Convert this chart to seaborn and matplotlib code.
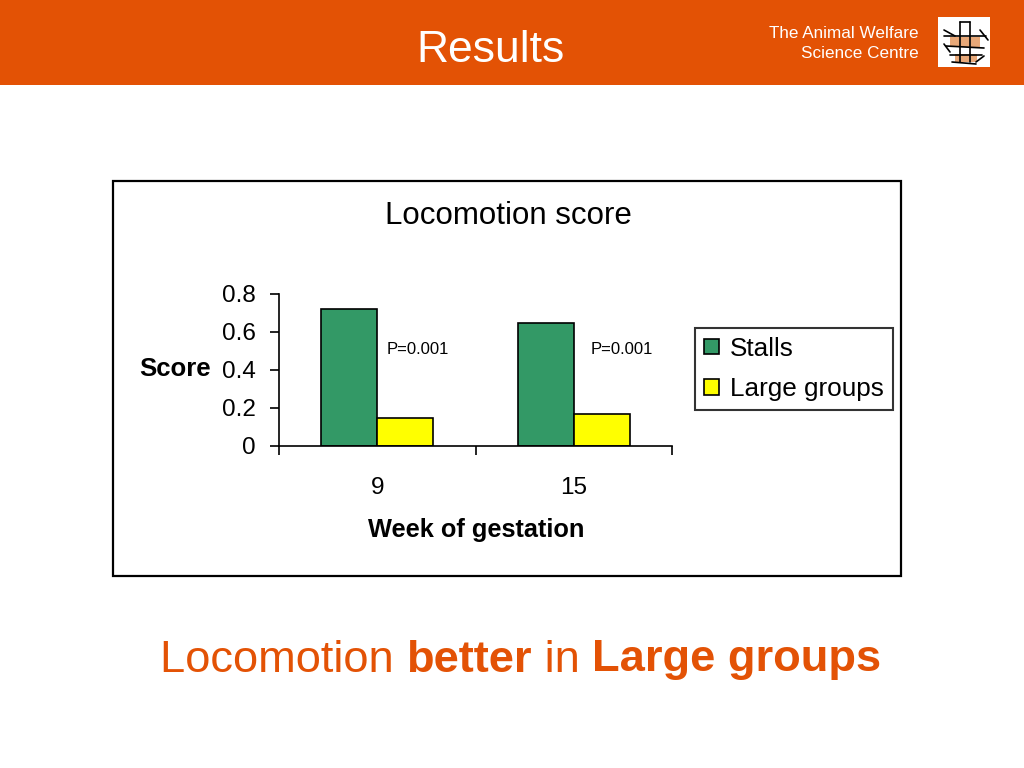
import matplotlib
matplotlib.use("Agg")
import matplotlib.pyplot as plt
import seaborn as sns
import pandas as pd
from matplotlib.patches import Rectangle

# datos
semanas = ["9", "15"]
grupos = ["Stalls", "Large groups"]
stalls = [0.72, 0.65]
large_groups = [0.15, 0.17]
p_valores = ["P=0.001", "P=0.001"]
colores = {"Stalls": "#339966", "Large groups": "#FFFF00"}

NARANJA = "#E35205"

sns.set_theme(style="white")
plt.rcParams['font.family'] = ['Liberation Sans', 'DejaVu Sans']
plt.rcParams['text.color'] = 'black'
plt.rcParams['axes.labelcolor'] = 'black'
plt.rcParams['xtick.color'] = 'black'
plt.rcParams['ytick.color'] = 'black'

df = pd.DataFrame({
    "semana": semanas * 2,
    "grupo": [grupos[0]] * len(semanas) + [grupos[1]] * len(semanas),
    "score": stalls + large_groups,
})

fig = plt.figure(figsize=(10.24, 7.68), dpi=100)
W, H = 1024, 768

def fx(px):
    return px / W

def fy(py):
    return 1 - py / H

# banda naranja de cabecera
fig.patches.append(Rectangle((0, fy(85)), 1, 85 / H, transform=fig.transFigure,
                             facecolor=NARANJA, edgecolor="none", zorder=0))
fig.text(fx(491), fy(50), "Results", color="white", fontsize=32,
         ha="center", va="center")
fig.text(fx(919), fy(33), "The Animal Welfare", color="white", fontsize=12.3,
         ha="right", va="center")
fig.text(fx(919), fy(53), "Science Centre", color="white", fontsize=12.3,
         ha="right", va="center")

# logo (aproximado)
fig.patches.append(Rectangle((fx(938), fy(67)), 52 / W, 50 / H, transform=fig.transFigure,
                             facecolor="white", edgecolor="none", zorder=1))
fig.patches.append(Rectangle((fx(950), fy(47)), 30 / W, 10 / H, transform=fig.transFigure,
                             facecolor="#E8A878", edgecolor="none", zorder=2))
fig.patches.append(Rectangle((fx(955), fy(62)), 22 / W, 8 / H, transform=fig.transFigure,
                             facecolor="#E8A878", edgecolor="none", zorder=2))
lineas_logo = [
    [(960, 22), (960, 62)], [(970, 22), (970, 62)], [(960, 22), (970, 22)],
    [(944, 36), (986, 36)], [(946, 46), (984, 48)], [(950, 55), (982, 55)],
    [(944, 30), (955, 36)], [(980, 30), (988, 40)], [(952, 62), (976, 64)],
    [(944, 44), (950, 52)], [(984, 56), (976, 62)],
]
for (x0, y0), (x1, y1) in lineas_logo:
    fig.add_artist(plt.Line2D([fx(x0), fx(x1)], [fy(y0), fy(y1)], color="black",
                              linewidth=1.2, transform=fig.transFigure, zorder=3))

# marco del grafico
fig.patches.append(Rectangle((fx(113), fy(576)), (901 - 113) / W, (576 - 181) / H,
                             transform=fig.transFigure, facecolor="none",
                             edgecolor="black", linewidth=1.6, zorder=1))

ax = fig.add_axes([fx(279), fy(446), (672 - 279) / W, (446 - 294) / H])
sns.barplot(data=df, x="semana", y="score", hue="grupo", order=semanas,
            hue_order=grupos, palette=colores, saturation=1, width=0.57,
            edgecolor="black", linewidth=1.2, ax=ax, legend=True)

ax.set_ylim(0, 0.8)
ax.set_xlim(-0.5, 1.5)
ax.set_yticks([0, 0.2, 0.4, 0.6, 0.8])
ax.set_yticklabels(["0", "0.2", "0.4", "0.6", "0.8"])
ax.tick_params(axis="y", labelsize=17.5, length=6.5, width=1.2, pad=10,
               direction="out", left=True)
ax.set_xticks([0, 1])
ax.set_xticklabels(semanas)
ax.set_xticks([-0.5, 0.5, 1.5], minor=True)
ax.tick_params(axis="x", which="major", labelsize=17.5, length=0, pad=22)
ax.tick_params(axis="x", which="minor", length=6.5, width=1.2, direction="out",
               bottom=True)
ax.set_xlabel("")
ax.set_ylabel("")
for lado in ["top", "right"]:
    ax.spines[lado].set_visible(False)
for lado in ["left", "bottom"]:
    ax.spines[lado].set_color("black")
    ax.spines[lado].set_linewidth(1.2)
ax.patch.set_alpha(0)

for xs, txt in zip([0.047, 1.085], p_valores):
    ax.text(xs, 0.51, txt, fontsize=12, ha="left", va="center")

leg = ax.legend(loc="center left", bbox_to_anchor=(fx(695), fy(369)),
                bbox_transform=fig.transFigure, fontsize=18.8, frameon=True,
                fancybox=False, edgecolor="black", handlelength=0.55,
                handleheight=0.55, handletextpad=0.45, labelspacing=0.64,
                borderpad=0.35, borderaxespad=0)
leg.get_frame().set_linewidth(1.5)
leg.get_frame().set_edgecolor("black")

fig.text(fx(508), fy(216), "Locomotion score", fontsize=22.5, ha="center", va="center")
fig.text(fx(211), fy(369), "Score", fontsize=18.5, fontweight="bold",
         ha="right", va="center")
fig.text(fx(476), fy(530), "Week of gestation", fontsize=18.3, fontweight="bold",
         ha="center", va="center")

# frase inferior con partes en negrita
partes = [("Locomotion ", "normal"), ("better", "bold"), (" in ", "normal"),
          ("Large groups", "bold")]
t = fig.text(fx(160), fy(660), partes[0][0], fontsize=32.6, color=NARANJA,
             ha="left", va="center")
for texto, peso in partes[1:]:
    t = fig.add_artist(plt.Annotation(texto, xy=(1, 0), xycoords=t, fontsize=32.6,
                                      fontweight=peso, color=NARANJA,
                                      ha="left", va="bottom"))

fig.savefig("out.png", dpi=100)
